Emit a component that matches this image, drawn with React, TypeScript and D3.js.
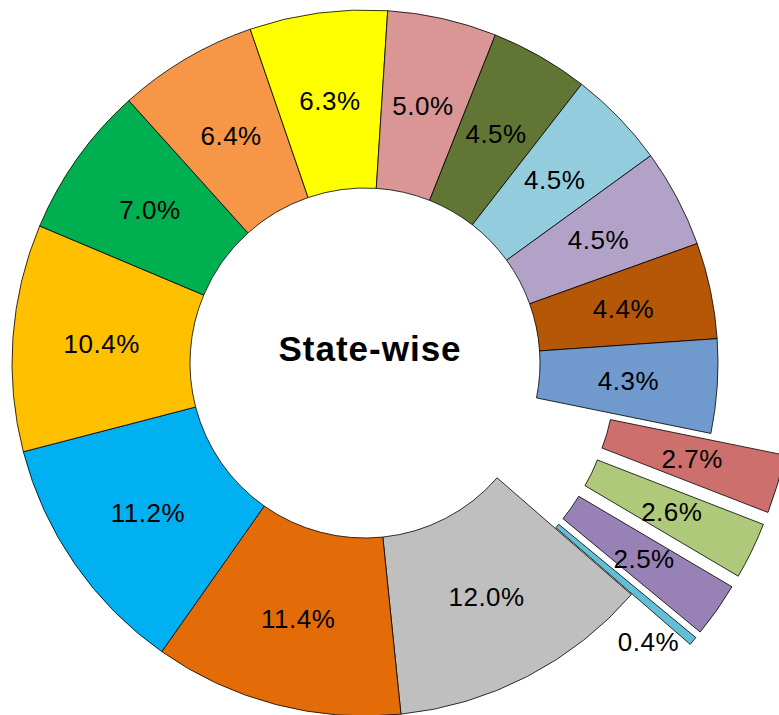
import { useEffect, useRef } from 'react';
import * as d3 from 'd3';

// state share, sorted as in the source chart (largest first, clockwise)
const shares = [12.0, 11.4, 11.2, 10.4, 7.0, 6.4, 6.3, 5.0, 4.5, 4.5, 4.5, 4.4, 4.3, 2.7, 2.6, 2.5, 0.4];
const colors = [
	'#BFBFBF', '#E36C09', '#00B0F0', '#FFC000', '#00B050', '#F79646', '#FFFF00', '#D99694',
	'#617534', '#93CDDD', '#B3A2C7', '#B65708', '#7099CE', '#CD706D', '#AFC97A', '#9881B5', '#62BFD5',
];
// the four smallest slices are pulled out of the ring
const exploded = [false, false, false, false, false, false, false, false, false, false, false, false, false, true, true, true, true];
const title = 'State-wise';

const width = 779;
const height = 715;

const App = () => {
	const svgRef = useRef<SVGSVGElement>(null);

	useEffect(() => {
		const svg = d3.select(svgRef.current);
		svg.selectAll('*').remove();

		const cx = 365;
		const cy = 363;
		const outer = 353;
		const inner = 175;
		const pull = 77;
		const start = (131 * Math.PI) / 180;

		const pie = d3
			.pie<number>()
			.sort(null)
			.value(d => d)
			.startAngle(start)
			.endAngle(start + 2 * Math.PI);

		const arcs = pie(shares);
		const arc = d3.arc<d3.PieArcDatum<number>>().innerRadius(inner).outerRadius(outer);

		const offset = (d: d3.PieArcDatum<number>) => {
			if (!exploded[d.index]) return [0, 0];
			const mid = (d.startAngle + d.endAngle) / 2;
			return [pull * Math.sin(mid), -pull * Math.cos(mid)];
		};

		const g = svg.append('g').attr('transform', `translate(${cx},${cy})`);

		g.selectAll('path')
			.data(arcs)
			.join('path')
			.attr('d', arc)
			.attr('fill', d => colors[d.index])
			.attr('stroke', '#000')
			.attr('stroke-width', 0.8)
			.attr('transform', d => `translate(${offset(d)})`);

		g.selectAll('text.lbl')
			.data(arcs)
			.join('text')
			.attr('class', 'lbl')
			.attr('transform', d => {
				const [ox, oy] = offset(d);
				// tiny slices get their label outside the ring
				if (d.value < 1) {
					const mid = (d.startAngle + d.endAngle) / 2 + (4.3 * Math.PI) / 180;
					const r = 398;
					return `translate(${r * Math.sin(mid)},${-r * Math.cos(mid)})`;
				}
				const [x, y] = arc.centroid(d);
				return `translate(${x + ox},${y + oy})`;
			})
			.attr('text-anchor', 'middle')
			.attr('dy', '0.35em')
			.style('font', '26px "Liberation Sans", Arial, sans-serif')
			.style('letter-spacing', '0.5px')
			.attr('fill', '#000')
			.text(d => `${d.value.toFixed(1)}%`);

		g.append('text')
			.attr('x', 5)
			.attr('y', -2)
			.attr('text-anchor', 'middle')
			.style('font', 'bold 35px "Liberation Sans", Arial, sans-serif')
			.style('letter-spacing', '1px')
			.text(title);
	}, []);

	return (
		<div style={{ position: 'fixed', left: 0, top: 0, width, height, overflow: 'hidden', background: '#fff' }}>
			<svg ref={svgRef} width={width} height={height} style={{ display: 'block' }} />
		</div>
	);
};

export default App;
